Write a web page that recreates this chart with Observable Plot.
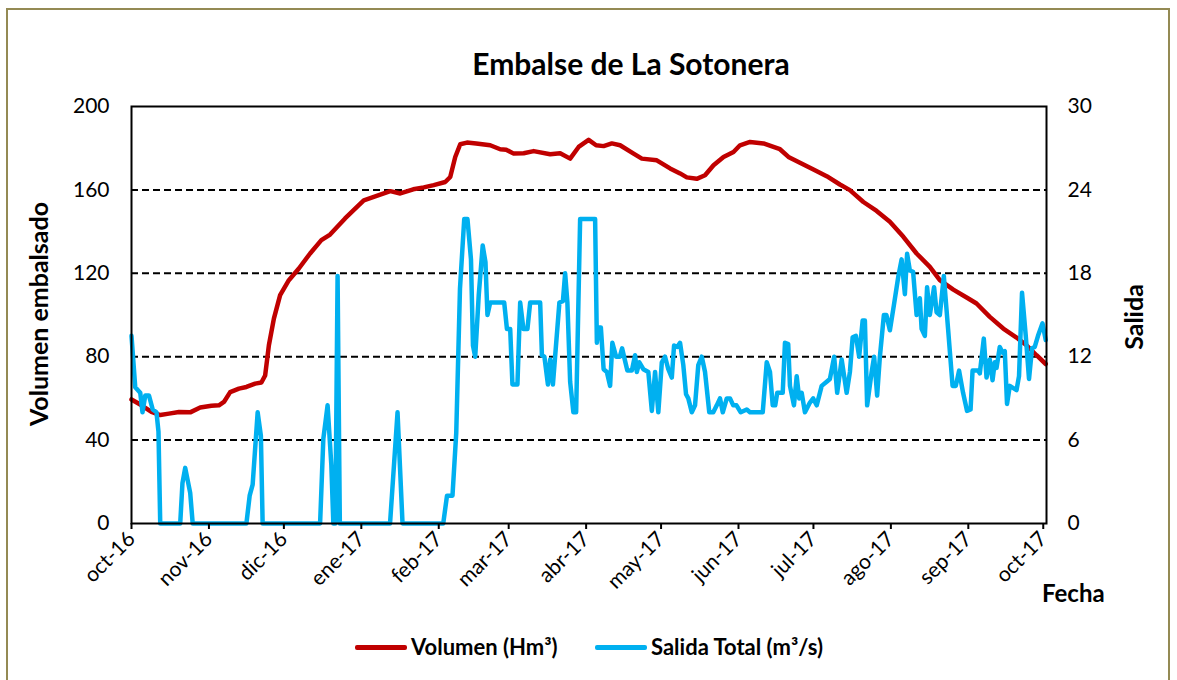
<!DOCTYPE html>
<html><head><meta charset="utf-8">
<script src="https://cdn.jsdelivr.net/npm/d3@7"></script>
<script src="https://cdn.jsdelivr.net/npm/@observablehq/plot@0.6"></script>
<style>
body{margin:0;background:#fff;overflow:hidden;font-family:Lato,"Open Sans",sans-serif;}
#wrap{position:relative;width:1177px;height:680px;overflow:hidden;}
#border{position:absolute;left:6px;top:8px;width:1164px;height:720px;border:2px solid #948A54;box-sizing:border-box;}
#chart{position:absolute;left:0;top:0;}
.t{position:absolute;font-weight:bold;color:#000;white-space:nowrap;}
.lg{position:absolute;height:5px;border-radius:2px;}
</style></head><body>
<div id="wrap">
<div id="border"></div>
<div id="chart"></div>
<div class="t" style="left:331px;width:600px;text-align:center;top:45px;font-size:30px;line-height:36px;">Embalse de La Sotonera</div>
<div class="t" style="left:38px;top:314px;font-size:25px;line-height:30px;transform:translate(-50%,-50%) rotate(-90deg);">Volumen embalsado</div>
<div class="t" style="left:1133px;top:317px;font-size:25px;line-height:30px;transform:translate(-50%,-50%) rotate(-90deg);">Salida</div>
<div class="t" style="left:1042px;top:579px;font-size:24px;line-height:28px;">Fecha</div>
<div class="lg" style="left:355px;top:645px;width:52px;background:#C00000;"></div>
<div class="t" style="left:411px;top:633px;font-size:22px;line-height:27px;">Volumen (Hm³)</div>
<div class="lg" style="left:595px;top:645px;width:52px;background:#00B0F0;"></div>
<div class="t" style="left:651px;top:633px;font-size:22px;line-height:27px;">Salida Total (m³/s)</div>
</div>
<script>
// Volumen embalsado (Hm3): days since 2016-10-01 and values
const volDays = [0,4,8,11.5,15,19,23.5,27.5,32,35,37,39.5,43,46,49.5,52,53.5,55,57,59.5,63,67,71.5,76,79.5,85.5,91,93,97,103.6,107.6,112.8,117,121,125.6,127.6,129.6,131.6,134.3,138,143.6,147.6,150,153,157,161,167.6,171.6,175.6,179,183,186,189,192.3,195.6,201,204.3,210.3,215.6,219.6,222.3,226.3,229.6,233,237,241,243.6,247.6,253,257,259.6,263,267.6,273,278.3,283.6,287.6,293,298.3,303.6,309,314.3,319.6,323.6,329,335,338.3,343.6,349,354.3,358.3,362.3,366];
const volValues = [59.5,56.7,53.5,52,52.7,53.5,53.3,55.6,56.5,56.7,58.3,63,64.7,65.5,67.1,67.6,71,85.5,98.3,109.5,116.7,122.3,129.5,135.9,138.6,146.3,152.7,155,156.6,159.4,158.3,160.3,161.2,162.3,163.8,166.2,175.8,181.9,182.7,182.3,181.4,179.5,179.3,177.4,177.6,178.6,177.1,177.6,175,180.6,184,181.4,181,182.3,181.4,177.4,175,174.2,170.3,167.9,166,165.3,167,171.8,175.8,178.2,181.4,183,182.3,180.6,179.5,175.8,173,169.8,166.6,162.6,159.9,154.2,149.9,144.7,137.5,129.5,123.1,116.7,112.2,107.9,105.5,99.1,93.5,89.2,85.5,80.7,76.5];
// Salida total (m3/s)
const salDays = [0,1.5,3.5,4.4,5.5,7,8.5,10,10.8,11.5,19.5,20.4,21.5,23.5,24.5,46,47.3,48.5,50.5,51.8,52.5,75.5,76.8,78.5,80,80.8,81.6,82.5,83.4,103.5,106.5,108.5,124.8,126.3,128.5,130,131.5,133.2,134.5,135.9,136.7,137.6,139,140.6,141.7,142.5,143.6,149.2,150.3,151.6,152.5,154.5,155.6,156.9,158.5,159.6,163.6,164.3,165.3,166.7,167.6,168.7,171.3,172.7,173.6,174.5,175.6,176.9,178,179.6,185.6,186.3,186.9,187.9,189,190.3,191.6,192.5,194,195.5,196.4,198.5,200.3,201.6,202.3,203.3,204.9,206.9,208.3,209.6,210.9,212.3,213.6,214.9,216.3,217.2,218.5,219.6,220.9,222,222.9,224.3,225.6,226.9,228.3,229.6,231.3,232.9,234.3,235.6,236.7,238.3,239.6,240.9,242.2,243.9,246.3,247.6,252.7,254.3,255.6,256.7,257.7,258.5,260.7,261.6,262.9,263.6,265.2,266.3,267.3,268.3,269.6,271.6,272.9,274.3,276.3,278.3,279.6,281.3,282.5,284.3,286.3,287.6,288.7,290,291.3,292.7,293.6,294.5,296.3,297.3,298.5,299.6,301.2,302.2,303.6,305.2,307,308.3,309.6,310.5,311.6,312.9,314.3,315.6,316.3,317.6,318.5,319.6,321.3,322.3,323.6,325.2,326.9,328.7,330,331.3,332.9,334.5,335.9,336.7,338.9,339.6,341.2,342.3,343.6,344.7,345.6,346.3,347.6,348.7,349.6,350.5,351.6,354.3,355.3,356.5,358,359.3,360.5,361.6,362.9,364.7,366];
const salValues = [13.5,9.8,9.4,8.0,9.2,9.2,8.2,8.0,6.6,0,0,2.9,4.0,2.2,0,0,2.0,2.8,8.0,6.3,0,0,6.1,8.5,4.2,0,0,17.8,0,0,8.0,0,0,2.0,2.0,6.5,16.9,21.9,21.9,19,12.8,12,16.4,20,18.8,15,15.9,15.9,14,14,10,10,15.9,14,14,15.9,15.9,12.1,12,10,11.8,10,15.9,16,18,15.9,10.2,8,8,21.9,21.9,13,14.1,14.1,11.1,10.9,9.9,13,12,12,12.6,11,11,12.1,10.9,11.6,11.1,10.9,8.1,10.9,8,11.6,12,11.1,10.5,12.8,12.7,13,11.4,9.3,9,8,8.5,11.4,12,10.9,8,8,8.5,9,8,9,9,8.5,8.5,8,8.2,8,8,11.6,10.9,8.5,8.5,9.4,9.4,13,12.9,9.9,8.5,10.6,9,9.4,8,8.7,9,8.5,9.9,10.2,10.4,12,9.4,11.8,9.4,10.9,13.4,13.5,12,14.6,14.6,8.5,10.9,12,9.2,12,15,15,13.9,15.7,17.8,19,16.5,19.4,18.2,18.1,15,16.2,14,13.5,17,15,17,15.2,15,17.8,14,9.9,9.9,11,9.4,8.1,8.2,11,11,10.8,13.3,10.5,11.8,10.3,11.6,11.2,12.7,12.3,12.4,8.6,9.9,9.6,10.6,16.6,13.5,10.4,12.6,12.7,13.5,14.4,13.2];
const volTicks = [0,40,80,120,160,200];
const salTicks = [0,6,12,18,24,30];
const gridLevels = [40,80,120,160];
const monthLabels = ["oct-16","nov-16","dic-16","ene-17","feb-17","mar-17","abr-17","may-17","jun-17","jul-17","ago-17","sep-17","oct-17"];

const start = Date.UTC(2016,9,1);
const toDate = d => new Date(start + d*864e5);
const vol = volDays.map((d,i)=>({date:toDate(d), v:volValues[i]}));
const sal = salDays.map((d,i)=>({date:toDate(d), v:salValues[i]*200/30}));
const monthTicks = monthLabels.map((m,i)=> new Date(Date.UTC(2016, 9+i, 1)));
const labelOf = new Map(monthTicks.map((d,i)=>[+d, monthLabels[i]]));

const chart = Plot.plot({
  width:1177, height:680,
  marginLeft:131, marginRight:131, marginTop:106, marginBottom:157,
  x:{type:"utc", domain:[toDate(0), toDate(366.3)]},
  y:{domain:[0,200]},
  style:{fontFamily:"Lato, 'Open Sans', sans-serif", fontSize:"21px", color:"black", background:"transparent", overflow:"visible"},
  marks:[
    Plot.ruleY(gridLevels,{stroke:"black", strokeWidth:2, strokeDasharray:"7,4"}),
    Plot.line(vol,{x:"date", y:"v", stroke:"#C00000", strokeWidth:4.5}),
    Plot.line(sal,{x:"date", y:"v", stroke:"#00B0F0", strokeWidth:4.5, strokeLinejoin:"round"}),
    Plot.frame({stroke:"black", strokeWidth:2}),
    Plot.axisY({anchor:"left", ticks:volTicks, tickSize:0, tickPadding:22, label:null, fontSize:21}),
    Plot.axisY({anchor:"right", ticks:volTicks, tickSize:0, tickPadding:21, label:null, fontSize:21,
      tickFormat:(d)=> String(salTicks[volTicks.indexOf(d)])}),
    Plot.axisX({ticks:monthTicks, tickSize:6, tickRotate:-45, tickPadding:6, label:null, fontSize:21, strokeWidth:2,
      tickFormat:(d)=> labelOf.get(+d)})
  ]
});
document.getElementById("chart").appendChild(chart);
</script>
</body></html>
